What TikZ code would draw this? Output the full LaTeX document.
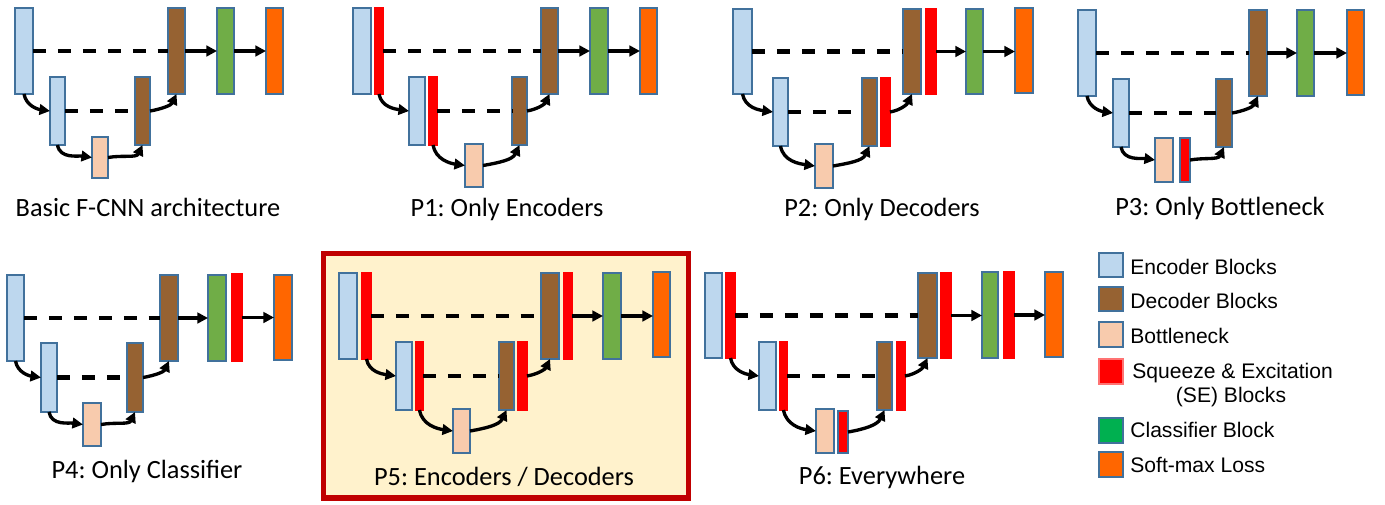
\documentclass[tikz,border=0pt]{standalone}
\usepackage{fontspec}
\setmainfont{Carlito}
\newfontfamily\legfont{Liberation Sans}
\frenchspacing
\usetikzlibrary{arrows.meta}
\definecolor{encfill}{HTML}{BDD7EE}
\definecolor{edge}{HTML}{41719C}
\definecolor{decfill}{RGB}{150,98,50}
\definecolor{bnfill}{HTML}{F8CBAD}
\definecolor{clfill}{HTML}{70AD47}
\definecolor{clkey}{HTML}{00B050}
\definecolor{smfill}{HTML}{FF6600}
\definecolor{sefill}{HTML}{FF0000}
\definecolor{framecol}{HTML}{C00000}
\definecolor{framefill}{HTML}{FFF2CC}
\tikzset{
	blk/.style={draw=edge,line width=.8pt,inner sep=0pt,outer sep=0pt},
	enc/.style={blk,fill=encfill},
	dec/.style={blk,fill=decfill},
	neck/.style={blk,fill=bnfill},
	cls/.style={blk,fill=clfill},
	loss/.style={blk,fill=smfill},
	se/.style={blk,draw=sefill,fill=sefill},
	sebox/.style={blk,fill=sefill},
	skip/.style={line width=2.3pt,dash pattern=on 7.4pt off 6.8pt},
	flow/.style={line width=1.9pt,->},
	caption/.style={inner sep=0pt,font=\fontsize{15}{18}\selectfont},
	keytext/.style={inner sep=0pt,font=\legfont\fontsize{12}{14}\selectfont}
}
% block from its corners (x1,y1) (x2,y2), in pixels
\newcommand\putblock[6]{\node[#1,minimum width={(#5-#3)*0.02cm},minimum height={(#6-#4)*0.02cm}] (#2) at ({(#3+#5)/2},{(#4+#6)/2}) {};}
% connectors of one network, x = block or its SE bar
\newcommand\wire[1]{%
	\draw[skip] (#1-e1x.east) -- (#1-e1x.east -| #1-d1.west);
	\draw[skip] (#1-e2x.east) -- (#1-e2x.east -| #1-d2.west);
	\draw[flow] (#1-d1x.east) -- (#1-d1x.east -| #1-cl.west);
	\draw[flow] (#1-clx.east) -- (#1-clx.east -| #1-sm.west);
	\draw[flow] (#1-e1x.south) to[out=-80,in=172] (#1-e2.west);
	\draw[flow] (#1-e2x.south) to[out=-80,in=172] (#1-bn.west);
	\draw[flow] (#1-bnx.east) to[out=10,in=-115] (#1-d2.south);
	\draw[flow] (#1-d2x.east) to[out=10,in=-115] (#1-d1.south);
}
\begin{document}
\begin{tikzpicture}[x=0.02cm,y=-0.02cm,>={Triangle[length=6pt,width=6pt]}]
	\useasboundingbox (0,0) rectangle (1385,504);
	\draw[framecol,fill=framefill,line width=3.4pt] (323.5,253.5) rectangle (688.5,498);
	% basic
	\putblock{enc,alias=a-e1x}{a-e1}{15}{8}{33}{94}
	\putblock{enc,alias=a-e2x}{a-e2}{50}{77}{65}{145}
	\putblock{neck,alias=a-bnx}{a-bn}{92}{137}{108}{178}
	\putblock{dec,alias=a-d2x}{a-d2}{135}{77}{150}{145}
	\putblock{dec,alias=a-d1x}{a-d1}{168}{8}{185}{94}
	\putblock{cls,alias=a-clx}{a-cl}{217}{8}{234}{94}
	\putblock{loss}{a-sm}{266}{8}{283}{94}
	\wire{a}
	\node[caption,anchor=base] (a-cap) at (148,216) {Basic F-CNN architecture};
	% P1
	\putblock{enc}{b-e1}{353}{8}{371}{94}
	\putblock{se}{b-e1x}{375}{8}{383}{94}
	\putblock{enc}{b-e2}{409}{77}{425}{145}
	\putblock{se}{b-e2x}{429}{77}{437}{145}
	\putblock{neck,alias=b-bnx}{b-bn}{465}{144}{483}{187}
	\putblock{dec,alias=b-d2x}{b-d2}{512}{77}{527}{145}
	\putblock{dec,alias=b-d1x}{b-d1}{541}{8}{558}{94}
	\putblock{cls,alias=b-clx}{b-cl}{590}{8}{608}{94}
	\putblock{loss}{b-sm}{640}{8}{657}{94}
	\wire{b}
	\node[caption,anchor=base] (b-cap) at (507,216) {P1: Only Encoders};
	% P2
	\putblock{enc,alias=c-e1x}{c-e1}{733}{9}{752}{94}
	\putblock{enc,alias=c-e2x}{c-e2}{773}{78}{788}{146}
	\putblock{neck,alias=c-bnx}{c-bn}{815}{144}{833}{188}
	\putblock{dec}{c-d2}{862}{78}{877}{146}
	\putblock{se}{c-d2x}{881}{78}{890}{146}
	\putblock{dec}{c-d1}{903}{9}{921}{94}
	\putblock{se}{c-d1x}{926}{9}{936}{94}
	\putblock{cls,alias=c-clx}{c-cl}{966}{9}{983}{94}
	\putblock{loss}{c-sm}{1015}{8}{1033}{93}
	\wire{c}
	\node[caption,anchor=base] (c-cap) at (882,216) {P2: Only Decoders};
	% P3
	\putblock{enc,alias=d-e1x}{d-e1}{1078}{10}{1096}{96}
	\putblock{enc,alias=d-e2x}{d-e2}{1113}{79}{1129}{147}
	\putblock{neck}{d-bn}{1155}{138}{1173}{182}
	\putblock{sebox}{d-bnx}{1180}{138}{1190}{182}
	\putblock{dec,alias=d-d2x}{d-d2}{1216}{79}{1232}{147}
	\putblock{dec,alias=d-d1x}{d-d1}{1249}{10}{1267}{96}
	\putblock{cls,alias=d-clx}{d-cl}{1297}{10}{1314}{96}
	\putblock{loss}{d-sm}{1347}{10}{1364}{95}
	\wire{d}
	\node[caption,anchor=base] (d-cap) at (1220,215) {P3: Only Bottleneck};
	% P4
	\putblock{enc,alias=e-e1x}{e-e1}{7}{275}{24}{361}
	\putblock{enc,alias=e-e2x}{e-e2}{41}{343}{57}{412}
	\putblock{neck,alias=e-bnx}{e-bn}{83}{403}{101}{446}
	\putblock{dec,alias=e-d2x}{e-d2}{127}{343}{143}{412}
	\putblock{dec,alias=e-d1x}{e-d1}{160}{275}{178}{361}
	\putblock{cls}{e-cl}{208}{275}{226}{361}
	\putblock{se}{e-clx}{232}{274}{242}{361}
	\putblock{loss}{e-sm}{274}{275}{292}{360}
	\wire{e}
	\node[caption,anchor=base] (e-cap) at (147,478) {P4: Only Classifier};
	% P5
	\putblock{enc}{f-e1}{339}{273}{357}{359}
	\putblock{se}{f-e1x}{362}{273}{371}{359}
	\putblock{enc}{f-e2}{396}{342}{412}{410}
	\putblock{se}{f-e2x}{416}{342}{423}{410}
	\putblock{neck,alias=f-bnx}{f-bn}{453}{409}{470}{453}
	\putblock{dec}{f-d2}{499}{342}{514}{410}
	\putblock{se}{f-d2x}{518}{342}{527}{410}
	\putblock{dec}{f-d1}{541}{273}{559}{359}
	\putblock{se}{f-d1x}{564}{273}{572}{359}
	\putblock{cls,alias=f-clx}{f-cl}{603}{273}{621}{359}
	\putblock{loss}{f-sm}{653}{272}{670}{357}
	\wire{f}
	\node[caption,anchor=base] (f-cap) at (504,485) {P5: Encoders / Decoders};
	% P6
	\putblock{enc}{g-e1}{705}{273}{722}{358}
	\putblock{se}{g-e1x}{726}{273}{735}{358}
	\putblock{enc}{g-e2}{759}{342}{776}{410}
	\putblock{se}{g-e2x}{780}{342}{787}{410}
	\putblock{neck}{g-bn}{816}{409}{834}{453}
	\putblock{sebox}{g-bnx}{838}{411}{848}{453}
	\putblock{dec}{g-d2}{877}{342}{892}{410}
	\putblock{se}{g-d2x}{897}{342}{905}{410}
	\putblock{dec}{g-d1}{918}{273}{937}{358}
	\putblock{se}{g-d1x}{941}{273}{951}{358}
	\putblock{cls}{g-cl}{982}{272}{998}{358}
	\putblock{se}{g-clx}{1004}{272}{1014}{358}
	\putblock{loss}{g-sm}{1045}{272}{1063}{357}
	\wire{g}
	\node[caption,anchor=base] (g-cap) at (882,484) {P6: Everywhere};
	% legend
	\putblock{enc}{k-enc}{1099}{253}{1123}{277}
	\putblock{dec}{k-dec}{1099}{287}{1123}{311}
	\putblock{neck}{k-bn}{1099}{322}{1123}{347}
	\putblock{se,draw=sefill!55}{k-se}{1099}{359}{1123}{384}
	\putblock{blk,fill=clkey}{k-cl}{1099}{418}{1123}{443}
	\putblock{loss}{k-sm}{1099}{452}{1123}{477}
	\node[keytext,anchor=base west] (k-enc-t) at (1130,274) {Encoder Blocks};
	\node[keytext,anchor=base west] (k-dec-t) at (1130,308) {Decoder Blocks};
	\node[keytext,anchor=base west] (k-bn-t) at (1130,343) {Bottleneck};
	\node[keytext,anchor=base west] (k-se-t) at (1132,378) {Squeeze \& Excitation};
	\node[keytext,anchor=base] (k-se-u) at (1231,402) {(SE) Blocks};
	\node[keytext,anchor=base west] (k-cl-t) at (1130,437) {Classifier Block};
	\node[keytext,anchor=base west] (k-sm-t) at (1130,472) {Soft-max Loss};
\end{tikzpicture}
\end{document}
